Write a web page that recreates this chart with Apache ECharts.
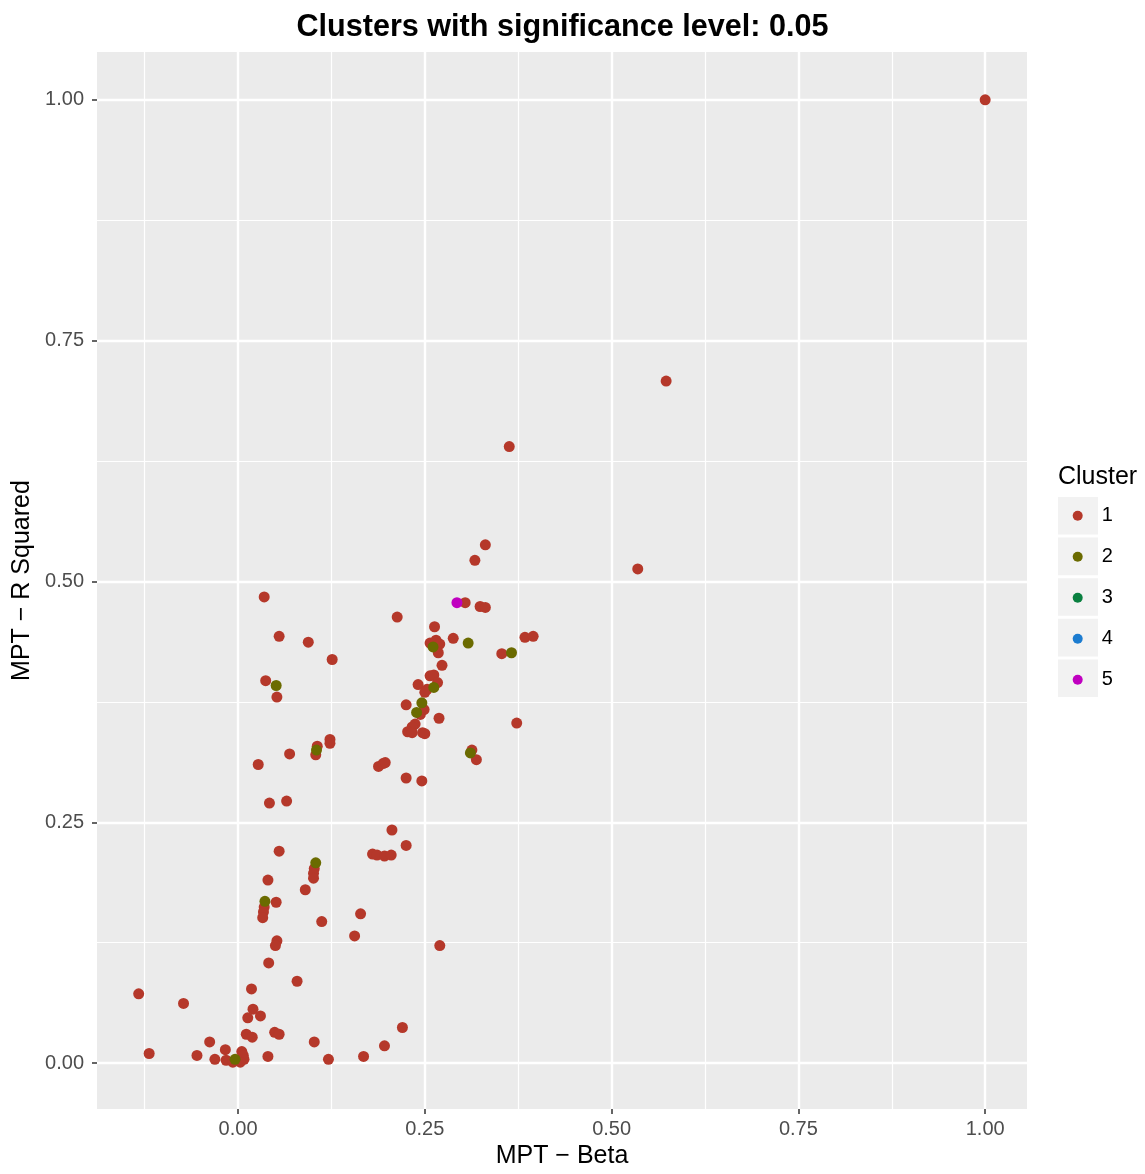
<!DOCTYPE html>
<html>
<head>
<meta charset="utf-8">
<script src="https://cdn.jsdelivr.net/npm/echarts@6/dist/echarts.min.js"></script>
<style>
html,body{margin:0;padding:0;background:#fff;}
#chart{width:1145px;height:1174px;}
</style>
</head>
<body>
<div id="chart"></div>
<script>
// ---- data ----
const clusterNames = ['1', '2', '3', '4', '5'];
const clusterColors = ['#B5382A', '#6B6B00', '#0A8040', '#1C7CD0', '#C000C0'];

const c1x = [1.000, 0.573, 0.363, 0.535, 0.331, 0.317, 0.304, 0.324, 0.331, 0.035,
  0.213, 0.055, 0.094, 0.126, 0.263, 0.288, 0.384, 0.395, 0.257, 0.265,
  0.270, 0.268, 0.353, 0.273, 0.257, 0.262, 0.267, 0.241, 0.253, 0.250,
  0.225, 0.244, 0.249, 0.269, 0.373, 0.237, 0.233, 0.227, 0.233, 0.247,
  0.250, 0.313, 0.319, 0.037, 0.052, 0.123, 0.123, 0.106, 0.104, 0.069,
  0.027, 0.188, 0.194, 0.197, 0.225, 0.246, 0.042, 0.065, 0.206, 0.225,
  0.055, 0.180, 0.186, 0.196, 0.205, 0.102, 0.101, 0.101, 0.040, 0.090,
  0.051, 0.035, 0.034, 0.033, 0.164, 0.112, 0.156, 0.052, 0.050, 0.270,
  0.041, 0.079, 0.018, -0.133, -0.073, 0.020, 0.013, 0.030, 0.011, 0.019,
  0.049, 0.055, 0.220, 0.196, 0.168, 0.121, 0.102, 0.040, -0.119, -0.055,
  -0.038, -0.031, -0.017, -0.016, 0.005, 0.007, 0.008, 0.003, -0.007];
const c1y = [1.000, 0.708, 0.640, 0.513, 0.538, 0.522, 0.478, 0.474, 0.473, 0.484,
  0.463, 0.443, 0.437, 0.419, 0.453, 0.441, 0.442, 0.443, 0.436, 0.439,
  0.435, 0.426, 0.425, 0.413, 0.402, 0.403, 0.395, 0.393, 0.388, 0.385,
  0.372, 0.362, 0.367, 0.358, 0.353, 0.352, 0.349, 0.344, 0.343, 0.343,
  0.342, 0.325, 0.315, 0.397, 0.380, 0.336, 0.332, 0.329, 0.320, 0.321,
  0.310, 0.308, 0.311, 0.312, 0.296, 0.293, 0.270, 0.272, 0.242, 0.226,
  0.220, 0.217, 0.216, 0.215, 0.216, 0.202, 0.197, 0.192, 0.190, 0.180,
  0.167, 0.162, 0.157, 0.151, 0.155, 0.147, 0.132, 0.127, 0.122, 0.122,
  0.104, 0.085, 0.077, 0.072, 0.062, 0.056, 0.047, 0.049, 0.030, 0.027,
  0.032, 0.030, 0.037, 0.018, 0.007, 0.004, 0.022, 0.007, 0.010, 0.008,
  0.022, 0.004, 0.014, 0.003, 0.012, 0.008, 0.004, 0.001, 0.001];

const c2x = [-0.004, 0.051, 0.105, 0.104, 0.036, 0.308, 0.261, 0.366, 0.262, 0.246, 0.239, 0.311];
const c2y = [0.004, 0.392, 0.325, 0.208, 0.168, 0.436, 0.432, 0.426, 0.390, 0.374, 0.364, 0.322];

const c3x = [];
const c3y = [];
const c4x = [];
const c4y = [];

const c5x = [0.293];
const c5y = [0.478];

const xTicks = [0, 0.25, 0.5, 0.75, 1.0];
const xMinor = [-0.125, 0.125, 0.375, 0.625, 0.875];
const yTicks = [0, 0.25, 0.5, 0.75, 1.0];
const yMinor = [0.125, 0.375, 0.625, 0.875];
const xRange = [-0.1888, 1.056];
const yRange = [-0.0476, 1.0496];

// ---- chart ----
const FONT = '"Liberation Sans", Arial, Helvetica, sans-serif';
const zip = (xs, ys) => xs.map((x, i) => [x, ys[i]]);
const seriesData = [zip(c1x, c1y), zip(c2x, c2y), zip(c3x, c3y), zip(c4x, c4y), zip(c5x, c5y)];

const chart = echarts.init(document.getElementById('chart'), null, {renderer: 'canvas'});

const majorAxisCommon = {
  type: 'value',
  axisLine: {show: false, onZero: false},
  axisTick: {show: true, length: 5, lineStyle: {color: '#333333', width: 1.5}},
  splitLine: {show: true, lineStyle: {color: '#FFFFFF', width: 2.4}},
  axisLabel: {color: '#4D4D4D', fontSize: 20, fontFamily: FONT, formatter: v => v.toFixed(2)},
  nameLocation: 'middle',
  nameTextStyle: {color: '#000000', fontSize: 25, fontFamily: FONT}
};
const minorAxisCommon = {
  type: 'value',
  axisLine: {show: false, onZero: false},
  axisTick: {show: false},
  axisLabel: {show: false},
  splitLine: {show: true, lineStyle: {color: '#FFFFFF', width: 1.2}}
};

const grid = {left: 97, right: 118, top: 52, bottom: 60, show: true, backgroundColor: '#EBEBEB', borderWidth: 0};

const legendBoxes = clusterNames.map((n, i) => ({
  type: 'rect',
  shape: {x: 1058, y: 497 + i * 40.6, width: 40, height: 37.6},
  style: {fill: '#F2F2F2'},
  z: 0
}));

chart.setOption({
  animation: false,
  backgroundColor: '#FFFFFF',
  title: {
    text: 'Clusters with significance level: 0.05',
    left: 557.5, top: 7, textAlign: 'center',
    textStyle: {fontFamily: FONT, fontWeight: 'bold', fontSize: 30.6, color: '#000000'}
  },
  grid: grid,
  xAxis: [
    Object.assign({}, majorAxisCommon, {
      min: xRange[0], max: xRange[1], position: 'bottom',
      axisTick: Object.assign({}, majorAxisCommon.axisTick, {customValues: xTicks}),
      axisLabel: Object.assign({}, majorAxisCommon.axisLabel, {customValues: xTicks, margin: 10}),
      name: 'MPT \u2212 Beta', nameGap: 35
    }),
    Object.assign({}, minorAxisCommon, {
      min: xRange[0], max: xRange[1], position: 'top',
      axisTick: {show: false, customValues: xMinor},
      axisLabel: {show: false, customValues: xMinor}
    })
  ],
  yAxis: [
    Object.assign({}, majorAxisCommon, {
      min: yRange[0], max: yRange[1], position: 'left',
      axisTick: Object.assign({}, majorAxisCommon.axisTick, {customValues: yTicks}),
      axisLabel: Object.assign({}, majorAxisCommon.axisLabel, {customValues: yTicks, margin: 13}),
      name: 'MPT \u2212 R Squared', nameGap: 57, nameRotate: 90
    }),
    Object.assign({}, minorAxisCommon, {
      min: yRange[0], max: yRange[1], position: 'right',
      axisTick: {show: false, customValues: yMinor},
      axisLabel: {show: false, customValues: yMinor}
    })
  ],
  legend: {
    orient: 'vertical',
    left: 1067.7, top: 500.7,
    padding: 5,
    itemWidth: 10, itemHeight: 10, itemGap: 21,
    icon: 'circle',
    data: clusterNames,
    formatter: name => '{a|' + name + '}',
    textStyle: {
      fontFamily: FONT, fontSize: 20, color: '#000000', lineHeight: 20,
      rich: {a: {fontFamily: FONT, fontSize: 20, color: '#000000', lineHeight: 20, padding: [0, 0, 0, 14]}}
    }
  },
  graphic: [
    {type: 'text', left: 1058, top: 465, style: {text: 'Cluster', font: '25px ' + FONT, fill: '#000000'}, z: 1}
  ].concat(legendBoxes),
  series: clusterNames.map((n, i) => ({
    name: n,
    type: 'scatter',
    xAxisIndex: 0, yAxisIndex: 0,
    symbol: 'circle',
    symbolSize: 11,
    itemStyle: {color: clusterColors[i], opacity: 1},
    emphasis: {disabled: true},
    data: seriesData[i],
    z: 2 + i
  }))
});
</script>
</body>
</html>
